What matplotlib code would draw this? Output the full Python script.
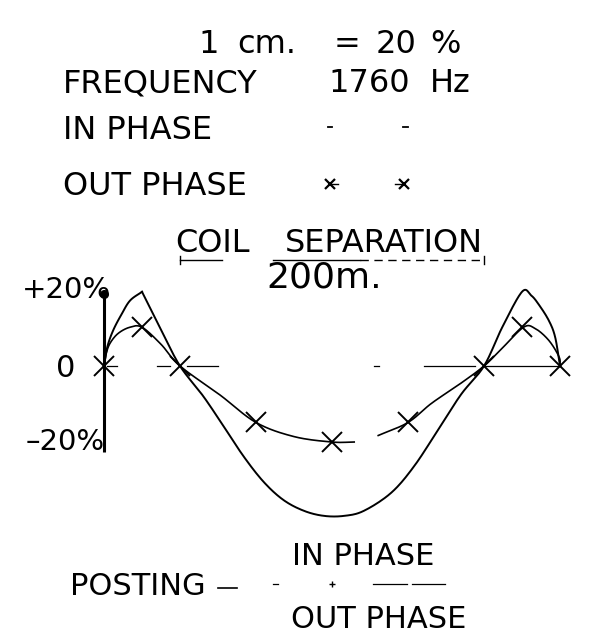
import matplotlib
matplotlib.use("Agg")
import matplotlib.pyplot as plt
import numpy as np

# ---------------- data ----------------
# stations along the profile, metres
stations_m = [0, 25, 50, 100, 150, 200, 250, 275, 300]
# out-phase readings at the stations, percent
out_phase_pct = [0, 10.7, 0, -15.6, -21, -15.6, 0, 10.7, 0]

# in-phase profile (metres, percent)
# piece A: rising branch up to the sharp left peak
in_phase_a_x = [0, 2.2, 6.1, 11.7, 17.2, 25]
in_phase_a_v = [0, 5.3, 9.9, 14.4, 18.1, 20.5]
# piece B: from the left peak to the right end
in_phase_b_x = [25, 37.5, 50, 65.4, 78.6, 91.9, 105, 118, 131.5, 144.7, 158,
                171, 189, 204, 220, 235, 250, 262, 275, 281, 286, 292.6,
                296.8, 300]
in_phase_b_v = [20.5, 10, 0, -8.4, -16.6, -25, -32, -37, -40, -41.4, -41.4,
                -40, -35, -27.7, -17.5, -7.8, 0, 10.7, 20.5, 19.5, 17, 12.6,
                8, 0]

# out-phase curve traced (two pieces, broken near the centre)
out_curve1_x = [0, 1.5, 4, 9.3, 17, 25, 37.5, 50, 76.3, 100, 125, 150, 164.6]
out_curve1_v = [0, 3.5, 6.3, 9, 10.7, 10.7, 6, 0, -8, -15.6, -19.5, -21, -21]
out_curve2_x = [180.4, 200, 215.5, 235, 250, 261.7, 276, 283.5, 292.6, 299.4, 300]
out_curve2_v = [-19.2, -15.6, -10.3, -4.7, 0, 4.8, 10.7, 10.4, 7.1, 2.5, 0]

coil_separation_m = 200
scale_pct = 20
frequency_hz = 1760
y_tick_labels = ["+20%", "0", "–20%"]

# ---------------- figure / scales ----------------
W, H = 593, 640
fig = plt.figure(figsize=(W / 100, H / 100), dpi=100)
fig.patch.set_facecolor("white")
ax = fig.add_axes([0, 0, 1, 1])
ax.axis("off")

X0, Y0 = 104, 366          # pixel position of (0 m, 0 %)
SX, SY = 76 / 50, 3.62      # pixels per metre, pixels per percent
ax.set_xlim(-X0 / SX, (W - X0) / SX)
ax.set_ylim((Y0 - H) / SY, Y0 / SY)

FONT = "DejaVu Sans"


def ptxt(x, y, s, size=23, ha="left", va="baseline", **kw):
    fig.text(x / W, 1 - y / H, s, fontsize=size, ha=ha, va=va,
             family=FONT, color="black", **kw)


def py(v_px):
    return (Y0 - v_px) / SY


def px(x_px):
    return (x_px - X0) / SX


def smooth(xs, ys, n=16):
    """Catmull-Rom curve through the traced points (drawing only)."""
    p = np.column_stack([xs, ys]).astype(float)
    p = np.vstack([2 * p[0] - p[1], p, 2 * p[-1] - p[-2]])
    out = []
    t = np.linspace(0, 1, n, endpoint=False)[:, None]
    for i in range(1, len(p) - 2):
        p0, p1, p2, p3 = p[i - 1], p[i], p[i + 1], p[i + 2]
        c = 0.5 * ((2 * p1) + (-p0 + p2) * t + (2 * p0 - 5 * p1 + 4 * p2 - p3) * t ** 2
                   + (-p0 + 3 * p1 - 3 * p2 + p3) * t ** 3)
        out.append(c)
    out.append(p[-2][None, :])
    c = np.vstack(out)
    return c[:, 0], c[:, 1]


# ---------------- header texts ----------------
ptxt(198, 53, "1")
ptxt(237, 53, "cm.")
ptxt(334, 53, "=")
ptxt(376, 53, "20")
ptxt(430, 53, "%")

ptxt(63, 92, "FREQUENCY")
ptxt(328, 92, f"{frequency_hz}")
ptxt(430, 92, "Hz")

ptxt(63, 139, "IN PHASE")
ptxt(63, 195, "OUT PHASE")

# legend symbols
for lx in (330, 405):
    ax.plot([px(lx - 2.5), px(lx + 2.5)], [py(127), py(127)], color="black", lw=1.3)
ax.plot([px(330)], [py(184)], marker="x", ms=7, mew=1.6, color="black")
ax.plot([px(330), px(338)], [py(184), py(184)], color="black", lw=1.0)
ax.plot([px(404)], [py(184)], marker="x", ms=7, mew=1.6, color="black")
ax.plot([px(395), px(404)], [py(184), py(184)], color="black", lw=1.0)

# coil separation
ptxt(175, 252, "COIL")
ptxt(285, 252, "SEPARATION")
dim_y = py(260)
x_a, x_b = stations_m[2], stations_m[2] + coil_separation_m
ax.plot([x_a, px(222)], [dim_y, dim_y], color="black", lw=1.0)
ax.plot([px(273), px(360)], [dim_y, dim_y], color="black", lw=1.0)
ax.plot([px(360), x_b], [dim_y, dim_y], color="black", lw=1.0,
        linestyle=(0, (6, 4)))
for xe in (x_a, x_b):
    ax.plot([xe, xe], [py(256), py(264)], color="black", lw=1.0)
ptxt(266, 287, f"{coil_separation_m}m.", size=26)

# ---------------- axis ----------------
ax.plot([0, 0], [scale_pct, py(452)], color="black", lw=2.2, solid_capstyle="butt")
ax.plot([0], [scale_pct], marker="o", ms=5.5, color="black")
ptxt(22, 298, y_tick_labels[0], size=21)
ptxt(56, 377, y_tick_labels[1], size=22)
ptxt(26, 450, y_tick_labels[2], size=21)

# zero line (broken, as drawn)
zero_segments = [(2, 8.6), (35, 43.6), (54.9, 75.3), (177.8, 181),
                 (210.8, 243.9), (249.8, 300)]
for a, b in zero_segments:
    ax.plot([a, b], [0, 0], color="black", lw=0.9)

# ---------------- curves ----------------
for xs, vs in ((in_phase_a_x, in_phase_a_v), (in_phase_b_x, in_phase_b_v)):
    sx, sv = smooth(xs, vs)
    ax.plot(sx, sv, color="black", lw=1.4, solid_joinstyle="round")
for xs, vs in ((out_curve1_x, out_curve1_v), (out_curve2_x, out_curve2_v)):
    sx, sv = smooth(xs, vs)
    ax.plot(sx, sv, color="black", lw=1.2, solid_joinstyle="round")
ax.plot(stations_m, out_phase_pct, linestyle="none", marker="x", ms=15,
        mew=1.4, color="black")

# ---------------- posting note ----------------
ptxt(70, 595, "POSTING", size=22)
ax.plot([px(218), px(237)], [py(588), py(588)], color="black", lw=1.2)
ptxt(292, 565, "IN PHASE", size=22)
ptxt(291, 628, "OUT PHASE", size=22)
ax.plot([px(273), px(278)], [py(584), py(584)], color="black", lw=0.9)
ax.plot([px(332)], [py(584)], marker="+", ms=5, mew=1.0, color="black")
ax.plot([px(373), px(407)], [py(584), py(584)], color="black", lw=0.9)
ax.plot([px(412), px(445)], [py(584), py(584)], color="black", lw=0.9)

fig.savefig("out.png", dpi=100, facecolor="white")
